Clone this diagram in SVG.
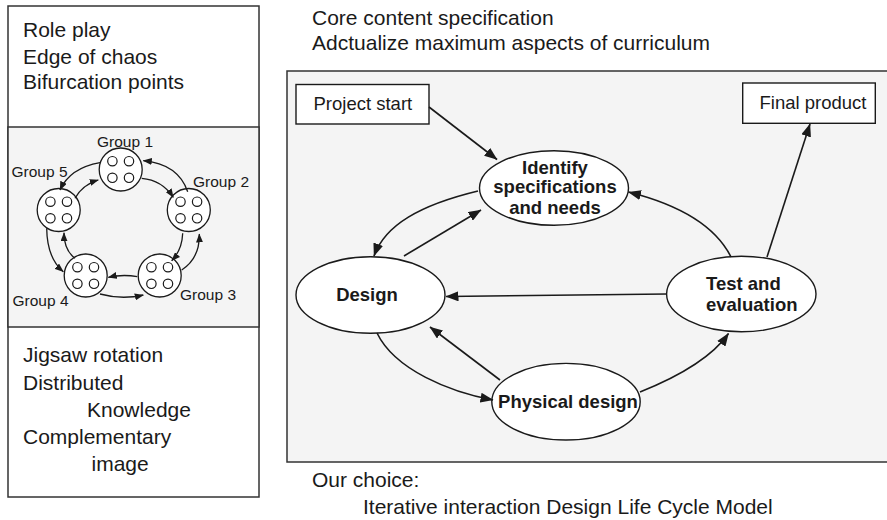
<svg xmlns="http://www.w3.org/2000/svg" width="887" height="520" viewBox="0 0 887 520">
  <style>
    text { font-family: "Liberation Sans", Arial, Helvetica, sans-serif; fill: #1a1a1a; }
    .big { font-size: 21px; }
    .mid { font-size: 18.5px; }
    .bold { font-size: 18.5px; font-weight: bold; }
    .grp { font-size: 15.5px; }
    .panel { stroke: #333; stroke-width: 1.5; }
    .node { fill: #fff; stroke: #1a1a1a; stroke-width: 1.4; }
    .conn { fill: none; stroke: #1a1a1a; stroke-width: 1.6; }
    .ring { fill: none; stroke: #1a1a1a; stroke-width: 1.3; }
    .team { fill: #fff; stroke: #1a1a1a; stroke-width: 1.3; }
    .seat { fill: #fff; stroke: #1a1a1a; stroke-width: 1.2; }
  </style>
  <defs>
    <marker id="ah" viewBox="0 0 13 10" refX="12.5" refY="5" markerWidth="13" markerHeight="10" orient="auto" markerUnits="userSpaceOnUse">
      <path d="M0,0 L13,5 L0,10 z" fill="#1a1a1a"/>
    </marker>
    <marker id="ahs" viewBox="0 0 9 7" refX="8.5" refY="3.5" markerWidth="9" markerHeight="7" orient="auto" markerUnits="userSpaceOnUse">
      <path d="M0,0 L9,3.5 L0,7 z" fill="#1a1a1a"/>
    </marker>
    <g id="team">
      <circle class="team" r="21.5"/>
      <circle class="seat" cx="-8.3" cy="-8.3" r="4.7"/>
      <circle class="seat" cx="8.3" cy="-8.3" r="4.7"/>
      <circle class="seat" cx="-8.3" cy="8.3" r="4.7"/>
      <circle class="seat" cx="8.3" cy="8.3" r="4.7"/>
    </g>
  </defs>

  <rect width="887" height="520" fill="#fff"/>

  <!-- Left column: collaboration concepts -->
  <g id="left-panel">
    <rect x="8" y="6" width="251" height="491" fill="#fff" class="panel"/>
    <rect x="8" y="127" width="251" height="200" fill="#f4f4f4" class="panel"/>
    <text class="big" x="23" y="37">Role play</text>
    <text class="big" x="23" y="63.5">Edge of chaos</text>
    <text class="big" x="23" y="89">Bifurcation points</text>
    <text class="big" x="23" y="362">Jigsaw rotation</text>
    <text class="big" x="23" y="390">Distributed</text>
    <text class="big" x="87" y="417">Knowledge</text>
    <text class="big" x="23" y="444">Complementary</text>
    <text class="big" x="91.5" y="471">image</text>
  </g>

  <!-- Rotating groups -->
  <g id="group1"><use href="#team" x="120.7" y="169.5"/><text class="grp" x="97" y="146.5">Group 1</text></g>
  <g id="group2"><use href="#team" x="188.8" y="210"/><text class="grp" x="193" y="186.5">Group 2</text></g>
  <g id="group3"><use href="#team" x="159.7" y="275.5"/><text class="grp" x="180" y="300">Group 3</text></g>
  <g id="group4"><use href="#team" x="85.7" y="275.5"/><text class="grp" x="12.5" y="305.5">Group 4</text></g>
  <g id="group5"><use href="#team" x="58.7" y="210"/><text class="grp" x="11.5" y="177">Group 5</text></g>

  <g id="group-connectors">
    <path class="ring" marker-end="url(#ahs)" d="M187.7,191.7 Q178,164 143.3,160.7"/>
    <path class="ring" marker-end="url(#ahs)" d="M141.7,178.3 Q162,180 173.3,197.3"/>
    <path class="ring" marker-end="url(#ahs)" d="M181.7,270 Q200,258 199.3,234"/>
    <path class="ring" marker-end="url(#ahs)" d="M182.7,233.3 Q182,250 171.7,260.7"/>
    <path class="ring" marker-end="url(#ahs)" d="M137.3,276.7 Q123,274 108.3,277.3"/>
    <path class="ring" marker-end="url(#ahs)" d="M100,294 Q122,300 143.3,295"/>
    <path class="ring" marker-end="url(#ahs)" d="M75,258.3 Q64,250 64,232.7"/>
    <path class="ring" marker-end="url(#ahs)" d="M46.7,228.3 Q47,258 63.3,271.7"/>
    <path class="ring" marker-end="url(#ahs)" d="M100,162.7 Q70,168 60,190"/>
    <path class="ring" marker-end="url(#ahs)" d="M75,198.3 Q82,185 98.3,180"/>
  </g>

  <!-- Right side: design life cycle -->
  <text class="big" x="312" y="25">Core content specification</text>
  <text class="big" x="312" y="50">Adctualize maximum aspects of curriculum</text>
  <path d="M890,71 L287,71 L287,462 L890,462" fill="#f4f4f4" class="panel"/>
  <text class="big" x="312" y="487">Our choice:</text>
  <text class="big" x="363" y="514">Iterative interaction Design Life Cycle Model</text>

  <g id="project-start">
    <rect x="296" y="84.5" width="133" height="39.5" class="node"/>
    <text class="mid" x="313.5" y="110">Project start</text>
  </g>
  <g id="final-product">
    <rect x="742.7" y="83" width="132.6" height="40.3" class="node"/>
    <text class="mid" x="759.5" y="109">Final product</text>
  </g>
  <g id="identify">
    <ellipse cx="554" cy="188" rx="74.5" ry="37.3" class="node"/>
    <text class="bold" x="555" y="173.5" text-anchor="middle">Identify</text>
    <text class="bold" x="555" y="193" text-anchor="middle">specifications</text>
    <text class="bold" x="555" y="213.5" text-anchor="middle">and needs</text>
  </g>
  <g id="design">
    <ellipse cx="370.5" cy="295" rx="74.5" ry="38.3" class="node"/>
    <text class="bold" x="367" y="300.5" text-anchor="middle">Design</text>
  </g>
  <g id="test">
    <ellipse cx="741.3" cy="294" rx="74.7" ry="37.8" class="node"/>
    <text class="bold" x="706" y="289.5">Test and</text>
    <text class="bold" x="706" y="311">evaluation</text>
  </g>
  <g id="physical-design">
    <ellipse cx="566" cy="401.7" rx="74.2" ry="38.3" class="node"/>
    <text class="bold" x="568" y="407.5" text-anchor="middle">Physical design</text>
  </g>

  <g id="connectors">
    <path class="conn" marker-end="url(#ah)" d="M429,107 L497,159.5"/>
    <path class="conn" marker-end="url(#ah)" d="M478,191 C420,205 385,225 374,256"/>
    <path class="conn" marker-end="url(#ah)" d="M404,256 L481,210"/>
    <path class="conn" marker-end="url(#ah)" d="M731,257 C715,225 680,205 628.5,192"/>
    <path class="conn" marker-end="url(#ah)" d="M767,257 L810,124"/>
    <path class="conn" marker-end="url(#ah)" d="M667,294 L446,296.5"/>
    <path class="conn" marker-end="url(#ah)" d="M377,333 C395,370 450,392 493,400"/>
    <path class="conn" marker-end="url(#ah)" d="M500,380 L430,327"/>
    <path class="conn" marker-end="url(#ah)" d="M640,392 C675,378 710,360 728.5,333.5"/>
  </g>
</svg>
